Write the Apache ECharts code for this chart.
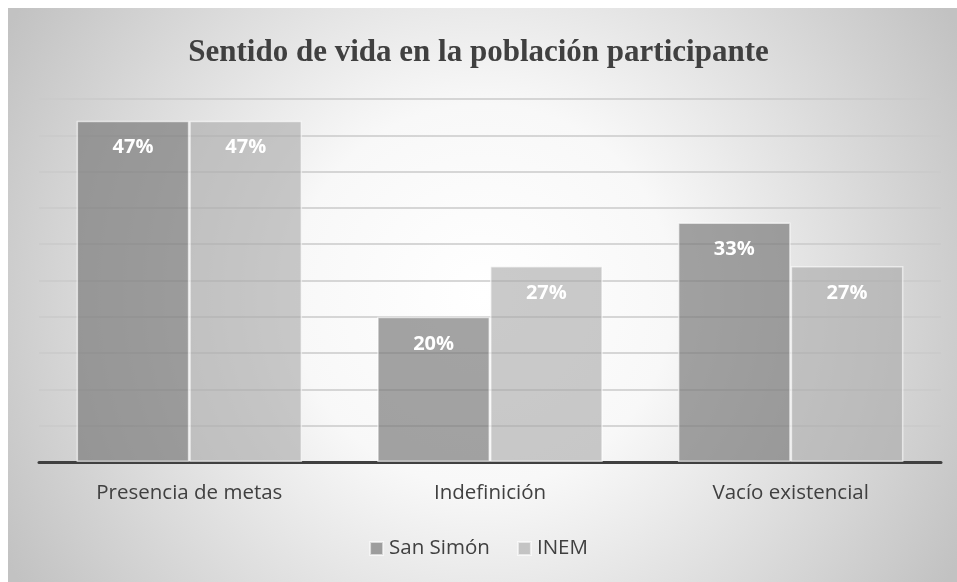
<!DOCTYPE html>
<html><head><meta charset="utf-8">
<script src="https://cdn.jsdelivr.net/npm/echarts@6/dist/echarts.min.js"></script>
<style>html,body{margin:0;padding:0;background:#fff}#c{width:957px;height:582px}</style>
</head><body><div id="c"></div>
<script>
const titleText = 'Sentido de vida en la población participante';
const categories = ['Presencia de metas', 'Indefinición', 'Vacío existencial'];
const seriesNames = ['San Simón', 'INEM'];
const sanSimon = [47, 20, 33];
const inem = [47, 27, 27];

const chart = echarts.init(document.getElementById('c'));
const labelStyle = {
  show: true, position: 'insideTop', distance: 17,
  color: '#ffffff', fontFamily: 'Open Sans', fontWeight: 'bold', fontSize: 20,
  formatter: p => p.value + '%'
};
chart.setOption({
  animation: false,
  backgroundColor: '#ffffff',
  graphic: [{
    type: 'rect', z: -10, silent: true,
    shape: { x: 8, y: 8, width: 949, height: 574 },
    style: { fill: new echarts.graphic.RadialGradient(0.5, 0.5, 0.95, [
      { offset: 0, color: '#ffffff' }, { offset: 0.35, color: '#f8f8f8' }, { offset: 1, color: '#c2c2c2' }
    ]) }
  }],
  title: {
    text: titleText, left: 'center', top: 32,
    textStyle: { fontFamily: 'Liberation Serif', fontWeight: 'bold', fontSize: 31, color: '#404040' }
  },
  legend: {
    data: seriesNames, bottom: 18, left: 'center', itemWidth: 13, itemHeight: 13, itemGap: 27,
    icon: 'rect',
    textStyle: { fontFamily: 'Open Sans', fontSize: 20.5, color: '#404040', padding: [0, 0, 0, 1] }
  },
  grid: { left: 39, right: 16, top: 99, bottom: 120 },
  xAxis: {
    type: 'category', data: categories,
    axisLine: { lineStyle: { color: '#404040', width: 3 } },
    axisTick: { show: false },
    axisLabel: { fontFamily: 'Open Sans', fontSize: 20.5, color: '#404040', margin: 21 }
  },
  yAxis: {
    type: 'value', min: 0, max: 50, interval: 5,
    axisLabel: { show: false }, axisLine: { show: false }, axisTick: { show: false },
    splitLine: { lineStyle: { color: '#cacaca', width: 1.5 } }
  },
  series: [
    { name: seriesNames[0], type: 'bar', data: sanSimon, barGap: '0%', barCategoryGap: '25%',
      itemStyle: { color: 'rgba(120,120,120,0.68)', borderColor: 'rgba(255,255,255,0.6)', borderWidth: 1.5 },
      label: labelStyle },
    { name: seriesNames[1], type: 'bar', data: inem,
      itemStyle: { color: 'rgba(170,170,170,0.62)', borderColor: 'rgba(255,255,255,0.6)', borderWidth: 1.5 },
      label: labelStyle }
  ]
});
</script></body></html>
